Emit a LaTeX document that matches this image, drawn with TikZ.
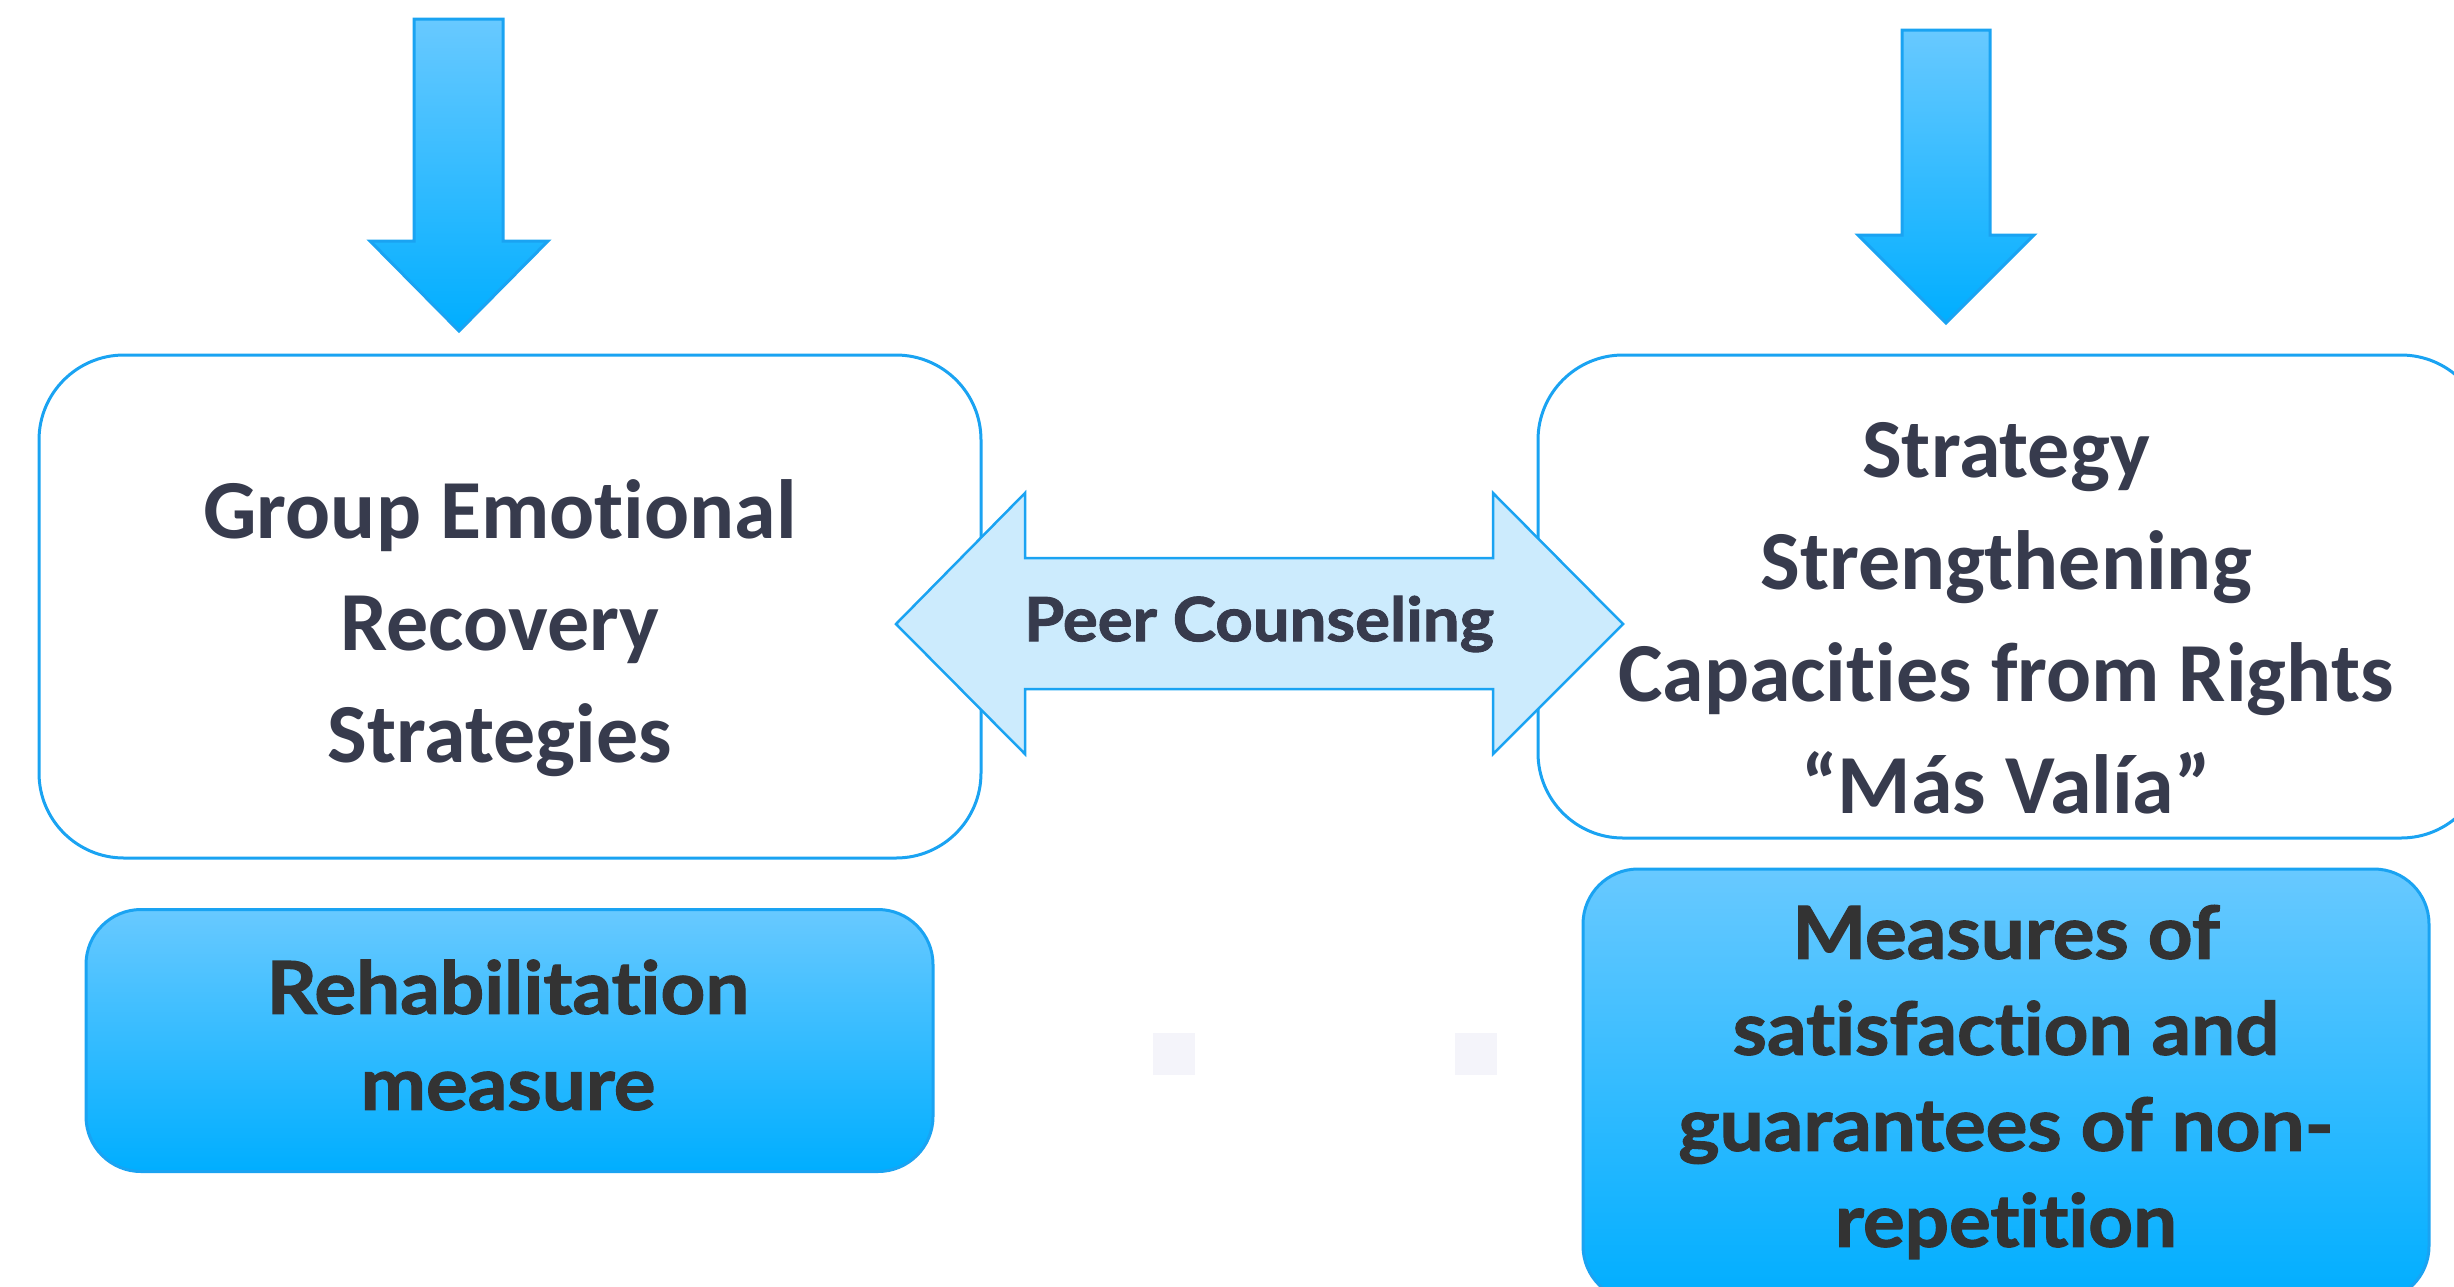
\documentclass[tikz,border=0pt]{standalone}
\usepackage{fontspec}
\setmainfont{Carlito}[Ligatures=NoCommon]
\newfontfamily\labelfont{Lato}[Ligatures=NoCommon, FakeStretch=1.07, BoldFeatures={FakeBold=1.6}]

\definecolor{edgeblue}{HTML}{1AA3F2}
\definecolor{lightblue}{HTML}{68C9FF}
\definecolor{deepblue}{HTML}{00AEFF}
\definecolor{paleblue}{HTML}{CCEBFD}
\definecolor{slate}{HTML}{373B4D}
\definecolor{charcoal}{HTML}{333333}
\definecolor{dotgray}{HTML}{F4F4FA}

\tikzset{
  outlinebox/.style={draw=edgeblue, line width=3pt, rounded corners=85pt, fill=white, inner sep=0pt},
  measurebox/.style={draw=edgeblue, line width=3pt, rounded corners=55pt, top color=lightblue, bottom color=deepblue, inner sep=0pt},
  downarrow/.style={draw=edgeblue, line width=3pt, top color=lightblue, bottom color=deepblue},
  strategytext/.style={font=\bfseries\fontsize{84}{112}\selectfont, text=slate, align=center},
  measuretext/.style={font=\labelfont\bfseries\fontsize{73}{96}\selectfont, text=charcoal, align=center},
}

\begin{document}
\begin{tikzpicture}[x=1pt, y=-1pt]
    \useasboundingbox (0,0) rectangle (2454,1286);
    \clip (0,0) rectangle (2454,1286);

    % Draw the two arrows at the top
    \draw[downarrow] (414,19) -- (503,19) -- (503,241) -- (548,241) -- (459,331)
        -- (370,241) -- (414,241) -- cycle;
    \draw[downarrow] (1902,30) -- (1990,30) -- (1990,235) -- (2034,235) -- (1946,323)
        -- (1858,235) -- (1902,235) -- cycle;

    % Draw the strategy boxes
    \node[outlinebox, minimum width=942pt, minimum height=503pt] (recovery) at (510,606.5) {};
    \node[strategytext] (recoverytext) at (500,628) {Group Emotional\\Recovery\\Strategies};

    \node[outlinebox, minimum width=948pt, minimum height=483pt] (masvalia) at (2012,596.5) {};
    \node[strategytext] (masvaliatext) at (2006,618) {Strategy\\Strengthening\\Capacities from Rights\\“Más Valía”};

    % Draw the double arrow in the middle
    \draw[edgeblue, line width=2.5pt, fill=paleblue] (896,624) -- (1025,493) -- (1025,558)
        -- (1493,558) -- (1493,493) -- (1623,624) -- (1493,754) -- (1493,689)
        -- (1025,689) -- (1025,754) -- cycle;
    \node[font=\labelfont\bfseries\fontsize{61}{70}\selectfont, text=slate] (peer) at (1259,624) {Peer Counseling};

    % Draw the measure boxes
    \node[measurebox, minimum width=847pt, minimum height=262pt] (rehab) at (509.5,1040.5) {};
    \node[measuretext] (rehabtext) at (508,1035) {Rehabilitation\\measure};

    \node[measurebox, minimum width=846pt, minimum height=432pt] (satisfaction) at (2006,1085) {};
    \node[measuretext] (satisfactiontext) at (2006,1082) {Measures of\\satisfaction and\\guarantees of non-\\repetition};

    % Draw the small squares
    \fill[dotgray] (1153,1033) rectangle (1195,1075);
    \fill[dotgray] (1455,1033) rectangle (1497,1075);
\end{tikzpicture}
\end{document}
